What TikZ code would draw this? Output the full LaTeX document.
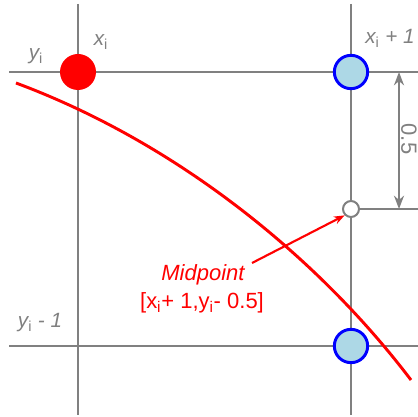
\documentclass[tikz,border=0pt]{standalone}
\usepackage{fontspec}
\setmainfont{Liberation Sans}
\usetikzlibrary{arrows.meta}
\definecolor{gridgray}{RGB}{128,128,128}
\definecolor{ptblue}{RGB}{0,0,255}
\definecolor{ptfill}{RGB}{173,216,230}
\newcommand{\sub}[1]{\textsubscript{\upshape #1}}
\begin{document}
\begin{tikzpicture}[x=0.75pt,y=-0.75pt,
  gridline/.style={draw=gridgray,line width=1.5pt},
  redpt/.style={circle,fill=red,inner sep=0pt,minimum size=27pt},
  bluept/.style={circle,draw=ptblue,fill=ptfill,line width=2.2pt,inner sep=0pt,minimum size=25pt},
  midpt/.style={circle,draw=gridgray,fill=white,line width=1.5pt,inner sep=0pt,minimum size=12pt},
  axlabel/.style={text=gridgray,font=\fontsize{15.5}{18}\selectfont\itshape,inner sep=0pt},
  redlabel/.style={text=red,font=\fontsize{16.5}{19}\selectfont,inner sep=0pt},
  dimarrow/.style={draw=gridgray,line width=1.5pt,{Stealth[length=10pt,width=7.5pt]}-{Stealth[length=10pt,width=7.5pt]}},
  curve/.style={draw=red,line width=2.2pt},
  pointer/.style={draw=red,line width=1.6pt,-{Stealth[length=8pt,width=6pt]}}]
\useasboundingbox (0,0) rectangle (418,417);
% grid
\coordinate (v1t) at (78,4);   \coordinate (v1b) at (78,415);
\coordinate (v2t) at (351,4);  \coordinate (v2b) at (351,415);
\coordinate (h1l) at (9,72);   \coordinate (h1r) at (418,72);
\coordinate (h2l) at (9,346);  \coordinate (h2r) at (418,346);
\draw[gridline] (v1t) -- (v1b);
\draw[gridline] (v2t) -- (v2b);
\draw[gridline] (h1l) -- (h1r);
\draw[gridline] (h2l) -- (h2r);
% midpoint
\node[midpt] (M) at (351,209) {};
\coordinate (mr) at (418,209);
\draw[gridline] (M.east) -- (mr);
% dimension
\coordinate (dt) at (399,72);
\coordinate (db) at (399,209);
\draw[dimarrow] (dt) -- (db);
\node[text=gridgray,font=\fontsize{16.5}{19}\selectfont,rotate=-90,inner sep=0pt] (half) at (409,139) {0.5};
% curve
\coordinate (cs) at (16,83);
\coordinate (ce) at (411,380);
\draw[curve] (cs) .. controls (180,144) and (320,260) .. (ce);
% points
\node[redpt] (P) at (78,72) {};
\node[bluept] (E) at (351,72) {};
\node[bluept] (SE) at (351,346) {};
% labels
\node[axlabel] (lx) at (101,42) {x\sub{i}};
\node[axlabel] (ly) at (36,56) {y\sub{i}};
\node[axlabel] (lx1) at (390,38) {x\sub{i} + 1};
\node[axlabel] (ly1) at (40,323) {y\sub{i} - 1};
\node[redlabel,font=\fontsize{16.5}{19}\selectfont\itshape] (mt) at (203,275) {Midpoint};
\node[redlabel] (mc) at (202,303) {[x\sub{i}+ 1,y\sub{i}- 0.5]};
\coordinate (ps) at (252,263);
\draw[pointer] (ps) -- (M.south west);
\end{tikzpicture}
\end{document}
